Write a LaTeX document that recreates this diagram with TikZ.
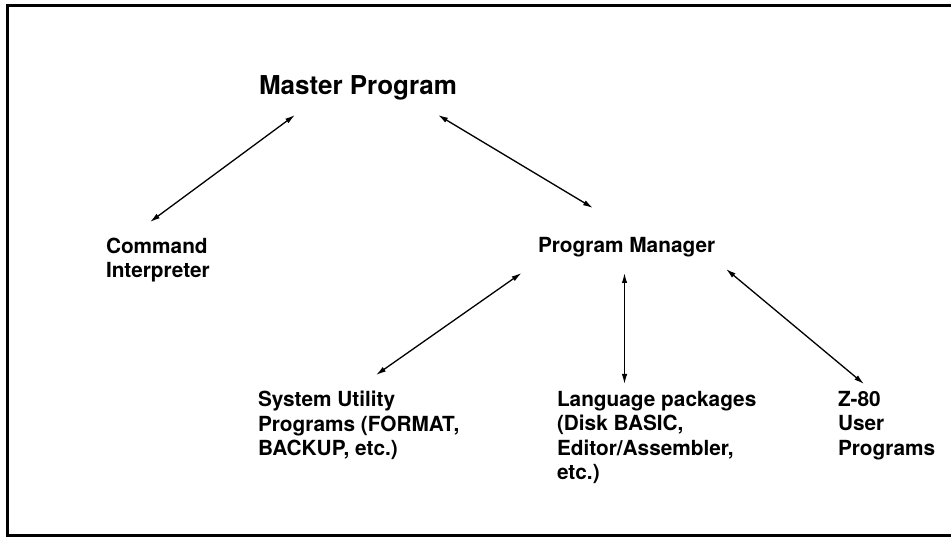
\documentclass[tikz,border=0pt]{standalone}
\usepackage{fontspec}
\setmainfont{TeX Gyre Heros}
\usepackage{tikz}
\usetikzlibrary{arrows.meta}
\usetikzlibrary{positioning}
\usetikzlibrary{calc}

\begin{document}
\begin{tikzpicture}[x=1pt, y=-1pt,
				label/.style={inner sep=0pt, outer sep=0pt, align=left, font=\bfseries\fontsize{20.8}{24.3}\selectfont},
				title/.style={inner sep=0pt, outer sep=0pt, font=\bfseries\fontsize{26}{30}\selectfont},
				link/.style={<->, >={Latex[length=10pt, width=5.5pt]}, line width=1.3pt},
				frame/.style={line width=3pt}]
				\useasboundingbox (0,0) rectangle (951,537);
				\draw[frame] (951,5.5) -- (7.5,5.5) -- (7.5,535) -- (951,535);
				
				\node[title, anchor=base west](master) at (259, 94.3) {Master Program};
				\node[label, anchor=base west](manager) at (538, 252.3) {Program Manager};
				\node[label, anchor=north west](interp) at (106, 238) {Command\\Interpreter};
				
				\node[label, anchor=north west](utility) at (258, 391.5) {System Utility\\Programs (FORMAT,\\BACKUP, etc.)};
				\node[label, anchor=north west](lang) at (557, 391.5) {Language packages\\(Disk BASIC,\\Editor/Assembler,\\etc.)};
				\node[label, anchor=north west](user) at (838, 391.5) {Z-80\\User\\Programs};
				
				\draw [link] ([xshift=36pt, yshift=-20.7pt]master.base west) -- ([xshift=44pt, yshift=16pt]interp.north west);
				\draw [link] ([xshift=179pt, yshift=-20.7pt]master.base west) -- ([xshift=55pt, yshift=44.3pt]manager.base west);
				\draw [link] ([xshift=-16.5pt, yshift=-20.7pt]manager.base west) -- ([xshift=118pt, yshift=16.5pt]utility.north west);
				\draw [link] ([xshift=86.5pt, yshift=-20.7pt]manager.base west) -- ([xshift=67.5pt, yshift=7.5pt]lang.north west);
				\draw [link] ([xshift=188pt, yshift=-16.7pt]manager.base west) -- ([xshift=26pt, yshift=7.5pt]user.north west);
			\end{tikzpicture}
\end{document}
